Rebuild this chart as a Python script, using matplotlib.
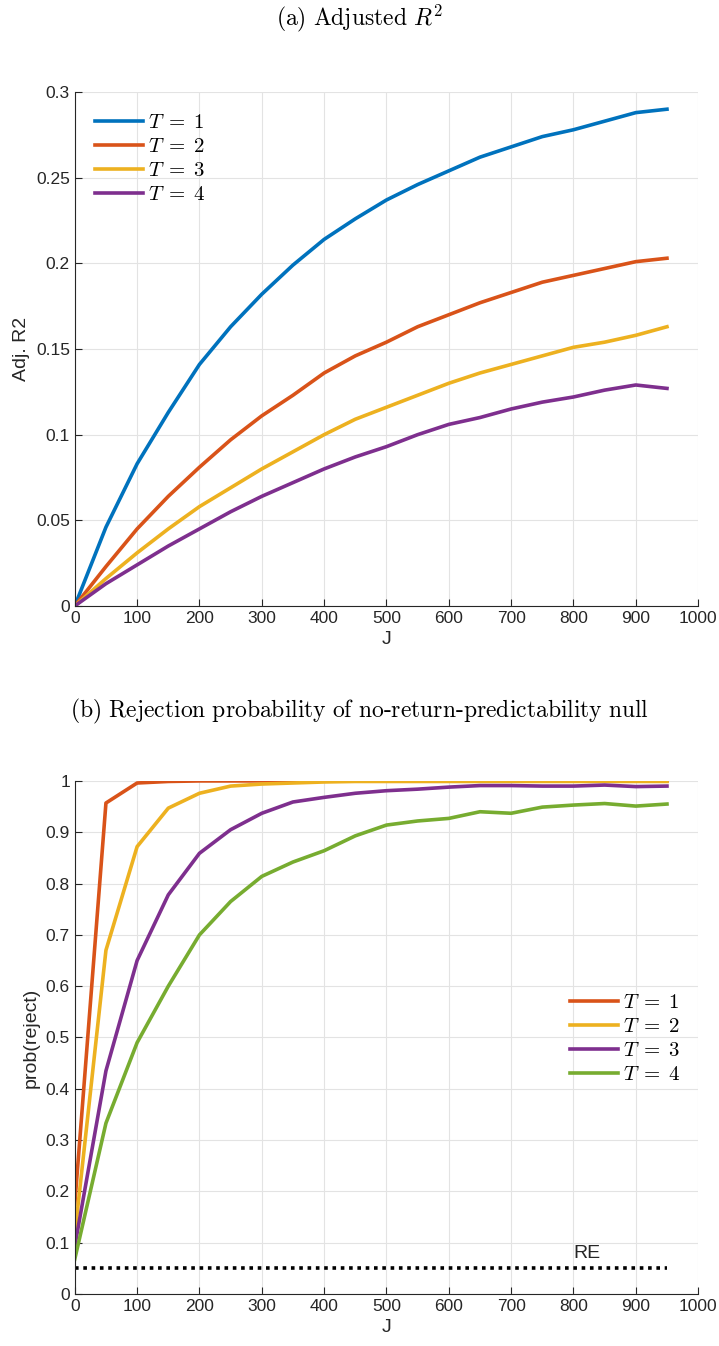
import numpy as np
import matplotlib.pyplot as plt

plt.rcParams['font.family'] = ['Liberation Sans', 'DejaVu Sans']
plt.rcParams['mathtext.fontset'] = 'cm'

# =============================================================
# DATA
# =============================================================
J = [0, 50, 100, 150, 200, 250, 300, 350, 400, 450,
     500, 550, 600, 650, 700, 750, 800, 850, 900, 950]

# (a) adjusted R2
r2_t1 = [0, 0.046, 0.083, 0.113, 0.141, 0.163, 0.182, 0.199, 0.214, 0.226,
         0.237, 0.246, 0.254, 0.262, 0.268, 0.274, 0.278, 0.283, 0.288, 0.290]
r2_t2 = [0, 0.023, 0.045, 0.064, 0.081, 0.097, 0.111, 0.123, 0.136, 0.146,
         0.154, 0.163, 0.170, 0.177, 0.183, 0.189, 0.193, 0.197, 0.201, 0.203]
r2_t3 = [0, 0.016, 0.031, 0.045, 0.058, 0.069, 0.080, 0.090, 0.100, 0.109,
         0.116, 0.123, 0.130, 0.136, 0.141, 0.146, 0.151, 0.154, 0.158, 0.163]
r2_t4 = [0, 0.013, 0.024, 0.035, 0.045, 0.055, 0.064, 0.072, 0.080, 0.087,
         0.093, 0.100, 0.106, 0.110, 0.115, 0.119, 0.122, 0.126, 0.129, 0.127]

# (b) rejection probability
rej_t1 = [0.175, 0.957, 0.996, 0.999, 1.0, 1.0, 1.0, 1.0, 1.0, 1.0,
          1.0, 1.0, 1.0, 1.0, 1.0, 1.0, 1.0, 1.0, 1.0, 1.0]
rej_t2 = [0.115, 0.670, 0.872, 0.947, 0.976, 0.990, 0.994, 0.996, 0.998, 0.999,
          0.999, 0.999, 0.999, 0.999, 0.999, 0.999, 0.999, 0.999, 0.999, 0.999]
rej_t3 = [0.093, 0.435, 0.650, 0.778, 0.859, 0.905, 0.937, 0.959, 0.968, 0.976,
          0.981, 0.984, 0.988, 0.991, 0.991, 0.990, 0.990, 0.992, 0.989, 0.990]
rej_t4 = [0.068, 0.333, 0.490, 0.600, 0.700, 0.765, 0.814, 0.842, 0.864, 0.893,
          0.914, 0.922, 0.927, 0.940, 0.937, 0.949, 0.953, 0.956, 0.951, 0.955]

re_level = 0.05

BLUE   = '#0072BD'
ORANGE = '#D95319'
YELLOW = '#EDB120'
PURPLE = '#7E2F8E'
GREEN  = '#77AC30'

# =============================================================
# STYLE HELPER
# =============================================================
def style_axes(ax):
    ax.spines['top'].set_visible(False)
    ax.spines['right'].set_visible(False)
    for s in ('left', 'bottom'):
        ax.spines[s].set_color('#262626')
        ax.spines[s].set_linewidth(0.8)
    ax.tick_params(direction='in', length=5, width=0.8, colors='#262626',
                   labelsize=12.5, top=False, right=False)
    ax.grid(True, color='#e3e3e3', linewidth=0.8)
    ax.set_axisbelow(True)
    ax.set_xlim(0, 1000)
    ax.set_xticks(range(0, 1001, 100))
    ax.set_xlabel('J', fontsize=14, color='#262626')


LEG_KW = dict(frameon=False, fontsize=15, handlelength=2.3, handletextpad=0.25,
              labelspacing=0.24, borderpad=0, borderaxespad=0)

fig = plt.figure(figsize=(7.19, 13.46), dpi=100)

# =============================================================
# (a) Adjusted R2
# =============================================================
ax1 = fig.add_axes([0.104, 0.5498, 0.867, 0.3818])
lw = 2.6
ax1.plot(J, r2_t1, color=BLUE, lw=lw, label=r'$T\;=\;1$')
ax1.plot(J, r2_t2, color=ORANGE, lw=lw, label=r'$T\;=\;2$')
ax1.plot(J, r2_t3, color=YELLOW, lw=lw, label=r'$T\;=\;3$')
ax1.plot(J, r2_t4, color=PURPLE, lw=lw, label=r'$T\;=\;4$')
style_axes(ax1)
ax1.set_ylim(0, 0.3)
ax1.set_yticks([0, 0.05, 0.1, 0.15, 0.2, 0.25, 0.3])
ax1.set_yticklabels(['0', '0.05', '0.1', '0.15', '0.2', '0.25', '0.3'])
ax1.set_ylabel('Adj. R2', fontsize=14, color='#262626')
ax1.legend(loc='upper left', bbox_to_anchor=(0.032, 0.959), **LEG_KW)
fig.text(0.5, 0.9866, r'$\mathrm{(a)\ Adjusted\ }R^2$', ha='center', va='center',
         fontsize=17)

# =============================================================
# (b) Rejection probability
# =============================================================
ax2 = fig.add_axes([0.104, 0.0386, 0.867, 0.3812])
ax2.plot(J, rej_t1, color=ORANGE, lw=lw, label=r'$T\;=\;1$')
ax2.plot(J, rej_t2, color=YELLOW, lw=lw, label=r'$T\;=\;2$')
ax2.plot(J, rej_t3, color=PURPLE, lw=lw, label=r'$T\;=\;3$')
ax2.plot(J, rej_t4, color=GREEN, lw=lw, label=r'$T\;=\;4$')
ax2.plot([J[0], J[-1]], [re_level, re_level], color='black', lw=2.6,
         linestyle=(0, (1, 1.3)))
ax2.text(800, re_level + 0.012, 'RE', fontsize=14, color='#262626',
         ha='left', va='bottom')
style_axes(ax2)
ax2.set_ylim(0, 1)
ax2.set_yticks(np.round(np.arange(0, 1.01, 0.1), 1))
ax2.set_yticklabels(['0', '0.1', '0.2', '0.3', '0.4', '0.5', '0.6', '0.7',
                     '0.8', '0.9', '1'])
ax2.set_ylabel('prob(reject)', fontsize=14, color='#262626')
ax2.legend(loc='upper left', bbox_to_anchor=(0.795, 0.586), **LEG_KW)
fig.text(0.5, 0.4718,
         r'$\mathrm{(b)\ Rejection\ probability\ of\ no\text{-}return\text{-}predictability\ null}$',
         ha='center', va='center', fontsize=17)

fig.savefig('out.png', dpi=100)
